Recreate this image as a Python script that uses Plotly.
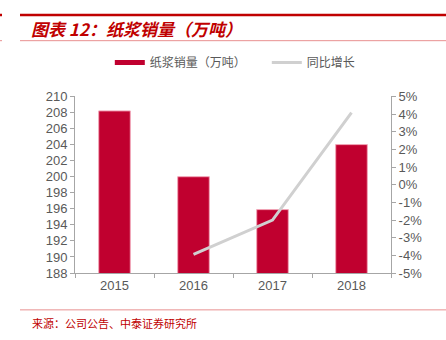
import plotly.graph_objects as go

years = ["2015", "2016", "2017", "2018"]
sales = [208.2, 200.0, 195.9, 204.0]          # 纸浆销量（万吨）
growth = [None, -0.0395, -0.020, 0.0408]        # 同比增长
left_ticks = list(range(188, 211, 2))
right_vals = [i / 100 for i in range(-5, 6)]
right_text = [f"{i}%" for i in range(-5, 6)]

RED = "#C0002F"
GRAY_LINE = "#D0D0D0"
AXIS = "#A6A6A6"
TXT = "#595959"
FONT = "Liberation Sans, Arial, sans-serif"
CJK = "Noto Sans CJK SC"

fig = go.Figure()
fig.add_trace(go.Bar(x=years, y=sales, width=0.4, marker=dict(color=RED, line=dict(color="#F2A6B8", width=1)),
                     showlegend=False, yaxis="y"))
fig.add_trace(go.Scatter(x=[None], y=[None], mode="lines", line=dict(color=RED, width=5),
                         name="纸浆销量（万吨）", yaxis="y"))
fig.add_trace(go.Scatter(x=years, y=growth, mode="lines", line=dict(color=GRAY_LINE, width=3),
                         name="同比增长", yaxis="y2", connectgaps=False))

fig.update_layout(
    width=446, height=340,
    margin=dict(l=75, r=55, t=91, b=67),
    paper_bgcolor="white", plot_bgcolor="white",
    font=dict(family=FONT, color=TXT, size=13),
    xaxis=dict(type="category", showline=True, linecolor=AXIS, linewidth=1, ticks="outside",
               tickson="boundaries", ticklen=4, tickcolor=AXIS, showgrid=False,
               tickfont=dict(size=13, color=TXT)),
    yaxis=dict(range=[188, 210], tickvals=left_ticks, showline=True, linecolor=AXIS, ticks="outside",
               ticklen=4, tickcolor=AXIS, showgrid=False, zeroline=False, tickfont=dict(size=13, color=TXT)),
    yaxis2=dict(range=[-0.05, 0.05], overlaying="y", side="right", tickvals=right_vals, ticktext=right_text,
                showline=True, linecolor=AXIS, ticks="outside", ticklen=4, tickcolor=AXIS, showgrid=False,
                zeroline=False, tickfont=dict(size=13, color=TXT)),
    legend=dict(orientation="h", xref="container", yref="container", x=0.2462, y=1 - 48 / 340,
                xanchor="left", yanchor="top", font=dict(family=CJK, size=12, color=TXT),
                bgcolor="rgba(0,0,0,0)", traceorder="normal", entrywidth=112, entrywidthmode="pixels"),
    bargap=0.6,
)

def hline(y, x0, x1, color, w):
    return dict(type="line", xref="paper", yref="paper",
                x0=(x0 - 75) / 316, x1=(x1 - 75) / 316,
                y0=(273 - y) / 182, y1=(273 - y) / 182, line=dict(color=color, width=w))
fig.update_layout(shapes=[
    hline(7, 20, 446, "#C00000", 2.5),
    hline(7, 0, 2, "#C00000", 2.5),
    hline(33.5, 20, 446, "#E89090", 1),
    hline(33.5, 0, 2, "#E89090", 1),
    hline(311, 20, 446, "#E89090", 1),
])
fig.add_annotation(text="<b><i>图表 12：纸浆销量（万吨）</i></b>", xref="paper", yref="paper",
                   x=(29 - 75) / 316, y=(273 - 21) / 182, xanchor="left", yanchor="middle", showarrow=False,
                   font=dict(family=CJK, size=17, color="#C00000"))
fig.add_annotation(text="来源：公司公告、中泰证券研究所", xref="paper", yref="paper",
                   x=(30 - 75) / 316, y=(273 - 325) / 182, xanchor="left", yanchor="middle", showarrow=False,
                   font=dict(family=CJK, size=11, color="#C00000"))

fig.write_html("out.html")
